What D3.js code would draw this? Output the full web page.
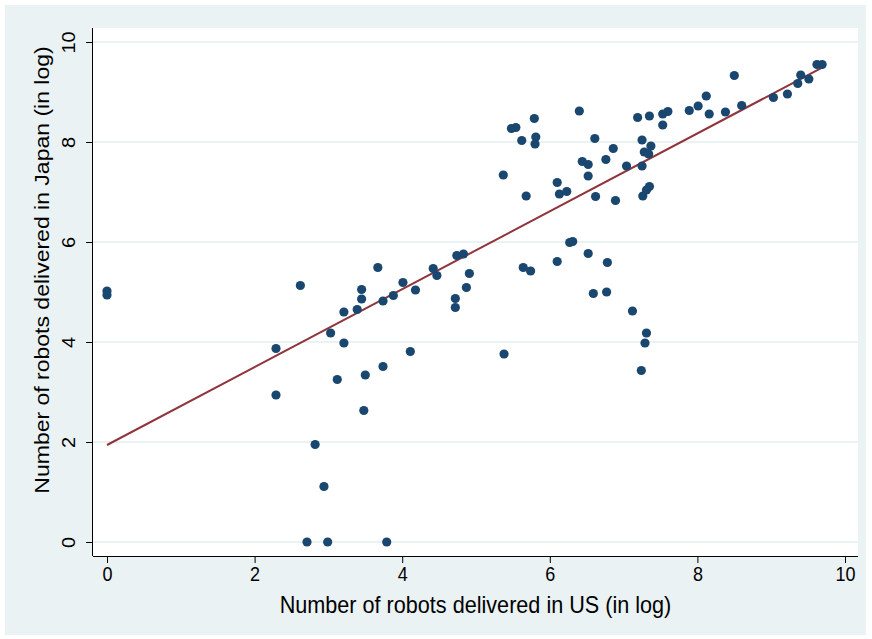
<!DOCTYPE html>
<html>
<head>
<meta charset="utf-8">
<script src="https://cdn.jsdelivr.net/npm/d3@7"></script>
<style>
  body { margin: 0; background: #fff; }
  svg { display: block; font-family: "Liberation Sans", Arial, sans-serif; }
</style>
</head>
<body>
<div id="chart"></div>
<script>
// robots delivered (log), US vs Japan
const usX = [
  0, 0, 2.29, 2.29, 2.62, 2.82, 2.94, 2.71, 2.99, 3.79,
  3.03, 3.12, 3.21, 3.21, 3.39, 3.45, 3.45, 3.48, 3.50, 3.67,
  3.74, 3.74, 3.88, 4.01, 4.11, 4.18, 4.42, 4.47, 4.72, 4.72,
  4.74, 4.83, 4.87, 4.91, 5.37, 5.38, 5.48, 5.54, 5.62, 5.64,
  5.68, 5.74, 5.79, 5.81, 5.80, 6.10, 6.10, 6.13, 6.23, 6.27,
  6.31, 6.40, 6.44, 6.52, 6.52, 6.52, 6.59, 6.61, 6.62, 6.76,
  6.77, 6.78, 6.86, 6.89, 7.04, 7.12, 7.19, 7.24, 7.25, 7.25,
  7.26, 7.28, 7.29, 7.31, 7.31, 7.34, 7.35, 7.35, 7.37, 7.53,
  7.53, 7.60, 7.89, 8.01, 8.12, 8.16, 8.38, 8.50, 8.60, 9.03,
  9.22, 9.36, 9.40, 9.51, 9.62, 9.69
];
const japanY = [
  5.02, 4.94, 3.87, 2.94, 5.13, 1.95, 1.11, 0, 0, 0,
  4.18, 3.25, 4.60, 3.98, 4.65, 5.05, 4.86, 2.63, 3.34, 5.49,
  4.82, 3.51, 4.93, 5.19, 3.81, 5.04, 5.47, 5.33, 4.87, 4.69,
  5.73, 5.76, 5.09, 5.37, 7.34, 3.76, 8.27, 8.29, 8.03, 5.49,
  6.92, 5.42, 8.47, 8.10, 7.96, 7.19, 5.61, 6.96, 7.01, 5.99,
  6.01, 8.62, 7.61, 7.55, 7.32, 5.77, 4.97, 8.07, 6.91, 7.65,
  5.00, 5.59, 7.87, 6.83, 7.52, 4.62, 8.49, 3.43, 8.04, 7.52,
  6.92, 7.80, 3.98, 4.18, 7.04, 7.76, 8.52, 7.11, 7.92, 8.56,
  8.34, 8.61, 8.63, 8.72, 8.92, 8.56, 8.60, 9.33, 8.73, 8.89,
  8.96, 9.17, 9.34, 9.26, 9.55, 9.55
];
// linear fit
const fitIntercept = 1.94;
const fitSlope = 0.779;

const xTicks = [0, 2, 4, 6, 8, 10];
const yTicks = [0, 2, 4, 6, 8, 10];
const xTitle = "Number of robots delivered in US (in log)";
const yTitle = "Number of robots delivered in Japan (in log)";

const W = 872, H = 639;
const plot = { left: 93, right: 858, top: 28, bottom: 556 };
const squeeze = 0.9; // picture text looks horizontally narrowed

const svg = d3.select("#chart").append("svg")
  .attr("width", W)
  .attr("height", H);

// graph region
svg.append("rect")
  .attr("x", 5).attr("y", 5)
  .attr("width", 861).attr("height", 630)
  .attr("fill", "#eaf2f3");

// plot region
svg.append("rect")
  .attr("x", plot.left).attr("y", plot.top)
  .attr("width", plot.right - plot.left)
  .attr("height", plot.bottom - plot.top)
  .attr("fill", "#fff");

const x = d3.scaleLinear().domain([0, 10]).range([107, 845]);
const y = d3.scaleLinear().domain([0, 10]).range([542, 42]);

// grid lines
svg.append("g")
  .selectAll("line")
  .data(yTicks)
  .enter()
  .append("line")
  .attr("x1", plot.left)
  .attr("x2", plot.right)
  .attr("y1", d => y(d))
  .attr("y2", d => y(d))
  .attr("stroke", "#eaf2f3")
  .attr("stroke-width", 2);

// fitted line
const xMin = d3.min(usX), xMax = d3.max(usX);
svg.append("line")
  .attr("x1", x(xMin))
  .attr("y1", y(fitIntercept + fitSlope * xMin))
  .attr("x2", x(xMax))
  .attr("y2", y(fitIntercept + fitSlope * xMax))
  .attr("stroke", "#90353b")
  .attr("stroke-width", 2);

// points
const points = usX.map((d, i) => ({ x: d, y: japanY[i] }));
svg.append("g")
  .selectAll("circle")
  .data(points)
  .enter()
  .append("circle")
  .attr("cx", d => x(d.x))
  .attr("cy", d => y(d.y))
  .attr("r", 4.6)
  .attr("fill", "#1a476f");

// axes
const xAxis = svg.append("g")
  .attr("transform", `translate(0,${plot.bottom})`)
  .call(d3.axisBottom(x).tickValues(xTicks).tickSize(7).tickPadding(4).tickSizeOuter(0));
xAxis.select(".domain").attr("d", `M${plot.left},0.5H${plot.right}`);
xAxis.selectAll("text")
  .attr("font-size", 20)
  .attr("fill", "#000")
  .attr("transform", `scale(${squeeze},1)`);

const yAxis = svg.append("g")
  .attr("transform", `translate(${plot.left},0)`)
  .call(d3.axisLeft(y).tickValues(yTicks).tickSize(7).tickSizeOuter(0));
yAxis.select(".domain").attr("d", `M-0.5,${plot.top}V${plot.bottom}`);
yAxis.selectAll("text").remove();
yAxis.selectAll(".tick")
  .append("text")
  .attr("transform", `translate(-18,0) scale(${squeeze},1) rotate(-90)`)
  .attr("text-anchor", "middle")
  .attr("font-size", 20)
  .attr("fill", "#000")
  .text(d => d);

svg.selectAll(".domain, .tick line").attr("stroke", "#000");

// axis titles
svg.append("text")
  .attr("transform", `translate(${(plot.left + plot.right) / 2},613) scale(0.94,1)`)
  .attr("text-anchor", "middle")
  .attr("font-size", 23)
  .attr("fill", "#000")
  .text(xTitle);

svg.append("text")
  .attr("transform", `translate(49,270) scale(${squeeze},1) rotate(-90)`)
  .attr("text-anchor", "middle")
  .attr("font-size", 23)
  .attr("fill", "#000")
  .text(yTitle);
</script>
</body>
</html>
